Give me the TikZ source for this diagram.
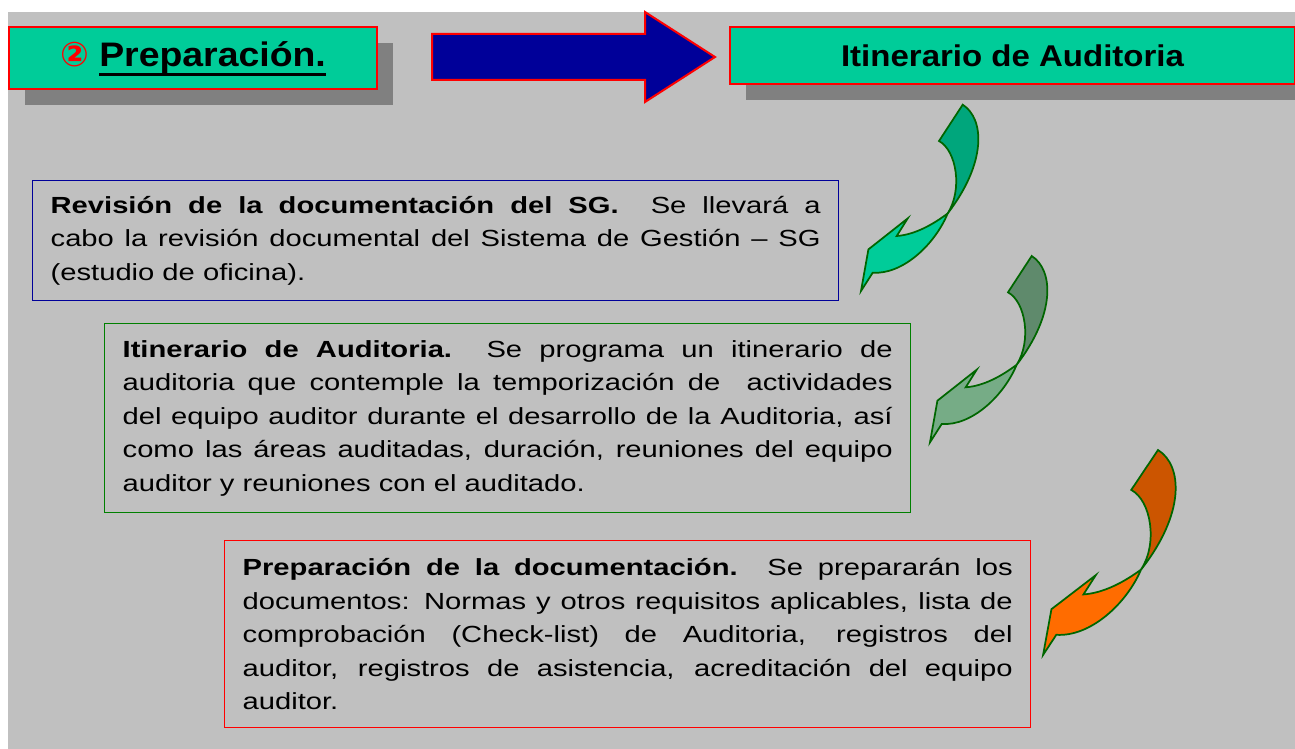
\documentclass[tikz,border=0pt]{standalone}
\usepackage{fontspec}
\setmainfont{Liberation Sans}[FakeStretch=1.25]
\newfontfamily\titlefont{Liberation Sans}[FakeStretch=1.1]
\newfontfamily\circfont{DejaVu Sans}
\usetikzlibrary{
    arrows.meta,
    shadows
}
\hyphenpenalty=10000
\tolerance=10000
\definecolor{fondo}{RGB}{192,192,192}
\definecolor{sombra}{RGB}{128,128,128}
\definecolor{verdeagua}{RGB}{0,204,153}
\definecolor{verdeaguaosc}{RGB}{0,166,124}
\definecolor{azulosc}{RGB}{0,0,153}
\definecolor{verdeborde}{RGB}{0,128,0}
\definecolor{verdecurva}{RGB}{0,102,0}
\definecolor{rojo}{RGB}{255,0,0}
\definecolor{grisverde}{RGB}{95,138,108}
\definecolor{grisverdeclaro}{RGB}{118,172,134}
\definecolor{naranjaosc}{RGB}{204,85,0}
\definecolor{naranja}{RGB}{255,108,0}
\newcommand\subrayado[1]{\setbox0\hbox{#1}\leavevmode\rlap{\smash{\rule[-6.8pt]{\wd0}{2.4pt}}}\box0}
\tikzset{
    % Box styles
    title box/.style={
        draw=rojo,
        fill=verdeagua,
        line width=1.5pt,
        rectangle,
        anchor=north west,
        inner sep=0pt,
        align=center,
        drop shadow={shadow xshift=12pt, shadow yshift=-12pt, fill=sombra, opacity=1}
    },
    note box/.style={
        draw,
        line width=1pt,
        rectangle,
        anchor=north west,
        text width=577.5pt,
        inner xsep=13.5pt,
        inner ysep=0pt,
        align=justify,
        font=\fontsize{17.5}{25.2}\selectfont
    },
    % Arrow styles
    block arrow/.style={
        draw=rojo,
        fill=azulosc,
        line width=1.5pt,
        line join=miter
    },
    curl back/.style={fill=#1, draw=verdecurva, line width=1.3pt},
    curl front/.style={fill=#1, draw=verdecurva, line width=1.3pt},
    pics/curl/.style 2 args={
        code={
            \filldraw[curl back=#1] (0,0) .. controls (22,14) and (24,58) .. (-15,108.7)
                .. controls (0,85) and (-6,46) .. (-23.7,36.3) -- cycle;
            \filldraw[curl front=#2] (-15,108.7) .. controls (-30,120) and (-48,130) .. (-66,131.3)
                -- (-55,113.7) -- (-94.3,144.7) -- (-101.7,186.3) -- (-90,168)
                .. controls (-60,170) and (-28,140) .. (-15,108.7) -- cycle;
        }
    }
}

\begin{document}
\begin{tikzpicture}[x=0.75pt, y=-0.75pt]
    \useasboundingbox (0,0) rectangle (1295,749);
    \fill[fondo] (8,12) rectangle (1295,749);

    % title row
    \node[title box, minimum width=276pt, minimum height=46.5pt,
          font=\titlefont\bfseries\fontsize{25.5}{30}\selectfont] (prep) at (8,26)
        {\textcolor{rojo}{\circfont ②}\ \subrayado{Preparación.}};
    \node[title box, minimum width=423.75pt, minimum height=42.75pt,
          font=\titlefont\bfseries\fontsize{22.5}{27}\selectfont] (itin) at (729,26)
        {Itinerario de Auditoria};
    \draw[block arrow] (432,34) -- (645,34) -- (645,12) -- (715,57)
        -- (645,102) -- (645,80) -- (432,80) -- cycle;

    % steps
    \node[note box, draw=azulosc, minimum height=90pt] (revision) at (32,180)
        {\textbf{Revisión de la documentación del SG.}\ \ Se llevará a\linebreak
         cabo la revisión documental del Sistema de Gestión – SG\linebreak
         (estudio de oficina).};
    \node[note box, draw=verdeborde, minimum height=141.75pt] (itinerario) at (104,323)
        {\textbf{Itinerario de Auditoria.}\ \ Se programa un itinerario de\linebreak
         auditoria que contemple la temporización de\ \ actividades\linebreak
         del equipo auditor durante el desarrollo de la Auditoria, así\linebreak
         como las áreas auditadas, duración, reuniones del equipo\linebreak
         auditor y reuniones con el auditado.};
    \node[note box, draw=rojo, minimum height=140.25pt] (documentos) at (224,540)
        {\textbf{Preparación de la documentación.}\ \ Se prepararán los\linebreak
         documentos: Normas y otros requisitos aplicables, lista de\linebreak
         comprobación (Check-list) de Auditoria, registros del\linebreak
         auditor, registros de asistencia, acreditación del equipo\linebreak
         auditor.};

    % curled arrows
    \pic at (962.7,104.7) {curl={verdeaguaosc}{verdeagua}};
    \pic at (1031.7,256) {curl={grisverde}{grisverdeclaro}};
    \pic[xscale=1.13, yscale=1.1] at (1158,450) {curl={naranjaosc}{naranja}};
\end{tikzpicture}
\end{document}
